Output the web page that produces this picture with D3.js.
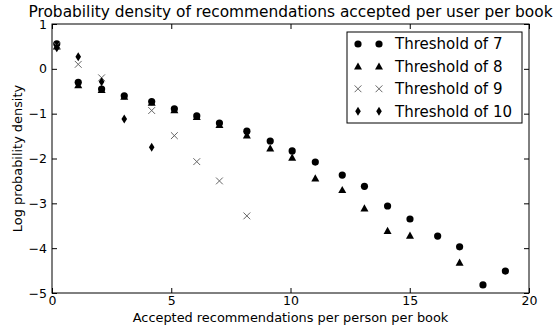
<!DOCTYPE html>
<html lang="en">
<head>
<meta charset="UTF-8" />
<script src="https://d3js.org/d3.v7.min.js"></script>
<style>
  body { margin: 0; background: #fff; }
  svg { display: block; font-family: "DejaVu Sans", sans-serif; }
</style>
</head>
<body>
<script>
var w = 553;
var h = 327;
var margin = { left: 52, right: 24, top: 24, bottom: 34 };

// shared x positions (accepted recommendations per person per book)
var xValues = [0.2, 1.1, 2.08, 3.03, 4.18, 5.13, 6.07, 7.02, 8.17, 9.15,
               10.07, 11.04, 12.17, 13.1, 14.07, 15.01, 16.17, 17.09, 18.07, 19.01];

// log probability density per threshold (null = no point)
var threshold7 = [0.56, -0.30, -0.45, -0.60, -0.73, -0.89, -1.05, -1.21, -1.39, -1.61,
                  -1.83, -2.08, -2.37, -2.62, -3.06, -3.35, -3.73, -3.97, -4.82, -4.51];
var threshold8 = [0.50, -0.36, -0.47, -0.62, -0.75, -0.92, -1.07, -1.25, -1.48, -1.77,
                  -1.98, -2.44, -2.70, -3.11, -3.61, -3.72, null, -4.32, null, null];
var threshold9 = [0.52, 0.10, -0.20, null, -0.93, -1.49, -2.07, -2.50, -3.28, null,
                  null, null, null, null, null, null, null, null, null, null];
var threshold10 = [0.47, 0.27, -0.29, -1.12, -1.75, null, null, null, null, null,
                   null, null, null, null, null, null, null, null, null, null];

var seriesNames = ["Threshold of 7", "Threshold of 8", "Threshold of 9", "Threshold of 10"];
var seriesValues = [threshold7, threshold8, threshold9, threshold10];
var markerTypes = ["circle", "triangle", "x", "thindiamond"];

var xTicks = [0, 5, 10, 15, 20];
var yTicks = [-5, -4, -3, -2, -1, 0, 1];

var svg = d3.select("body")
  .append("svg")
  .attr("width", w)
  .attr("height", h);

svg.append("rect").attr("width", w).attr("height", h).attr("fill", "#fff");

var xScale = d3.scaleLinear()
  .domain([0, 20])
  .range([margin.left, w - margin.right]);

var yScale = d3.scaleLinear()
  .domain([-5, 1])
  .range([h - margin.bottom, margin.top]);

var fmt = function (d) { return d < 0 ? "\u2212" + Math.abs(d) : String(d); };

// axes with inward ticks on all four sides
function styleAxis(g) {
  g.select(".domain").remove();
  g.selectAll(".tick line").attr("stroke", "#000");
  g.selectAll(".tick text")
    .attr("fill", "#000")
    .attr("font-size", "12.5px")
    .attr("font-family", "DejaVu Sans, sans-serif");
}

svg.append("g")
  .attr("transform", "translate(0," + yScale(-5) + ")")
  .call(d3.axisBottom(xScale).tickValues(xTicks).tickSize(-5).tickPadding(3).tickFormat(fmt))
  .call(styleAxis);

svg.append("g")
  .attr("transform", "translate(0," + yScale(1) + ")")
  .call(d3.axisTop(xScale).tickValues(xTicks).tickSize(-5).tickFormat(""))
  .call(styleAxis);

svg.append("g")
  .attr("transform", "translate(" + xScale(0) + ",0)")
  .call(d3.axisLeft(yScale).tickValues(yTicks).tickSize(-5).tickPadding(5).tickFormat(fmt))
  .call(styleAxis);

svg.append("g")
  .attr("transform", "translate(" + xScale(20) + ",0)")
  .call(d3.axisRight(yScale).tickValues(yTicks).tickSize(-5).tickFormat(""))
  .call(styleAxis);

// frame
svg.append("rect")
  .attr("x", xScale(0))
  .attr("y", yScale(1))
  .attr("width", xScale(20) - xScale(0))
  .attr("height", yScale(-5) - yScale(1))
  .attr("fill", "none")
  .attr("stroke", "#000")
  .attr("stroke-width", 1);

// marker drawing
function drawMarker(g, type, x, y) {
  if (type === "circle") {
    g.append("circle").attr("cx", x).attr("cy", y).attr("r", 3.6).attr("fill", "#000");
  } else if (type === "triangle") {
    g.append("path")
      .attr("d", "M" + x + "," + (y - 4) + "L" + (x + 4) + "," + (y + 3.2) + "L" + (x - 4) + "," + (y + 3.2) + "Z")
      .attr("fill", "#000");
  } else if (type === "x") {
    var s = 3.4;
    g.append("path")
      .attr("d", "M" + (x - s) + "," + (y - s) + "L" + (x + s) + "," + (y + s) +
                 "M" + (x - s) + "," + (y + s) + "L" + (x + s) + "," + (y - s))
      .attr("stroke", "#666")
      .attr("stroke-width", 1)
      .attr("fill", "none");
  } else {
    g.append("path")
      .attr("d", "M" + x + "," + (y - 4.5) + "L" + (x + 2.8) + "," + y + "L" + x + "," + (y + 4.5) + "L" + (x - 2.8) + "," + y + "Z")
      .attr("fill", "#000");
  }
}

var marks = svg.append("g");
seriesValues.forEach(function (vals, s) {
  var g = marks.append("g").attr("class", "series-" + s);
  vals.forEach(function (v, i) {
    if (v === null) return;
    drawMarker(g, markerTypes[s], xScale(xValues[i]), yScale(v));
  });
});

// legend
var legend = svg.append("g").attr("transform", "translate(347,32)");
legend.append("rect")
  .attr("width", 175)
  .attr("height", 91)
  .attr("fill", "#fff")
  .attr("stroke", "#000")
  .attr("stroke-width", 1);

seriesNames.forEach(function (name, s) {
  var cy = 12 + s * 22.4;
  drawMarker(legend, markerTypes[s], 11, cy);
  drawMarker(legend, markerTypes[s], 32, cy);
  legend.append("text")
    .attr("x", 48)
    .attr("y", cy)
    .attr("dy", "0.36em")
    .attr("font-size", "15px")
    .text(name);
});

// title and labels
svg.append("text")
  .attr("x", (xScale(0) + xScale(20)) / 2)
  .attr("y", 17)
  .attr("text-anchor", "middle")
  .attr("font-size", "15.4px")
  .text("Probability density of recommendations accepted per user per book");

svg.append("text")
  .attr("x", (xScale(0) + xScale(20)) / 2)
  .attr("y", 322)
  .attr("text-anchor", "middle")
  .attr("font-size", "12.9px")
  .text("Accepted recommendations per person per book");

svg.append("text")
  .attr("transform", "translate(22," + (yScale(-2)) + ") rotate(-90)")
  .attr("text-anchor", "middle")
  .attr("font-size", "12.9px")
  .text("Log probability density");
</script>
</body>
</html>
